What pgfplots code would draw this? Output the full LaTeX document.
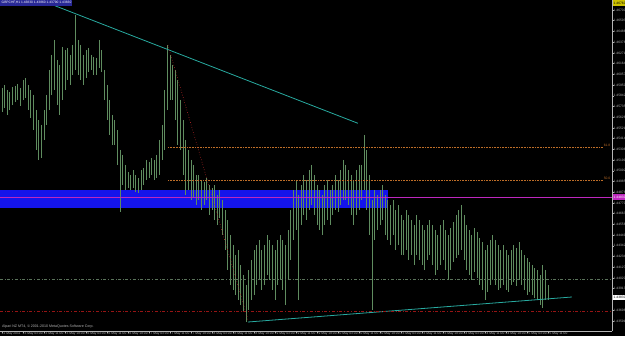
\documentclass[border=0pt]{standalone}
\usepackage{pgfplots}
\pgfplotsset{compat=1.18}
\usepackage{pgfplotstable}
\usepackage{fontspec}
\setmainfont{Liberation Sans}
\definecolor{barcol}{RGB}{95,140,95}
\definecolor{teal2}{RGB}{40,170,160}
\definecolor{fibcol}{RGB}{190,110,40}
\definecolor{fibline}{RGB}{190,40,40}
\definecolor{magline}{RGB}{190,40,190}
\definecolor{rectblue}{RGB}{20,20,235}
\definecolor{hdrblue}{RGB}{40,40,150}
\definecolor{axgray}{RGB}{180,180,180}
\definecolor{sellcol}{RGB}{90,115,90}
\definecolor{slred}{RGB}{150,20,20}
\pgfplotstableread{
i h l
0 1.4592 1.4568
1 1.4595 1.4572
2 1.4590 1.4565
3 1.4588 1.4570
4 1.4593 1.4575
5 1.4594 1.4578
6 1.4596 1.4580
7 1.4592 1.4574
8 1.4600 1.4580
9 1.4602 1.4582
10 1.4595 1.4570
11 1.4590 1.4562
12 1.4585 1.4550
13 1.4570 1.4530
14 1.4560 1.4520
15 1.4555 1.4522
16 1.4570 1.4540
17 1.4585 1.4555
18 1.4610 1.4570
19 1.4625 1.4585
20 1.4640 1.4590
21 1.4620 1.4575
22 1.4615 1.4565
23 1.4633 1.4580
24 1.4630 1.4590
25 1.4632 1.4600
26 1.4625 1.4595
27 1.4635 1.4605
28 1.4665 1.4610
29 1.4640 1.4605
30 1.4635 1.4600
31 1.4625 1.4595
32 1.4630 1.4602
33 1.4632 1.4608
34 1.4625 1.4610
35 1.4623 1.4605
36 1.4622 1.4605
37 1.4640 1.4612
38 1.4630 1.4608
39 1.4610 1.4580
40 1.4595 1.4560
41 1.4580 1.4545
42 1.4565 1.4535
43 1.4560 1.4535
44 1.4550 1.4515
45 1.4530 1.4468
46 1.4525 1.4495
47 1.4515 1.4490
48 1.4508 1.4492
49 1.4505 1.4490
50 1.4510 1.4492
51 1.4505 1.4488
52 1.4502 1.4487
53 1.4510 1.4490
54 1.4512 1.4495
55 1.4520 1.4500
56 1.4518 1.4502
57 1.4522 1.4505
58 1.4520 1.4500
59 1.4525 1.4502
60 1.4540 1.4505
61 1.4555 1.4520
62 1.4590 1.4530
63 1.4635 1.4570
64 1.4625 1.4580
65 1.4615 1.4580
66 1.4610 1.4560
67 1.4600 1.4535
68 1.4580 1.4530
69 1.4560 1.4505
70 1.4540 1.4485
71 1.4530 1.4490
72 1.4520 1.4480
73 1.4515 1.4482
74 1.4505 1.4475
75 1.4505 1.4480
76 1.4500 1.4470
77 1.4498 1.4475
78 1.4502 1.4480
79 1.4495 1.4465
80 1.4492 1.4470
81 1.4495 1.4460
82 1.4485 1.4455
83 1.4490 1.4462
84 1.4480 1.4445
85 1.4470 1.4430
86 1.4460 1.4410
87 1.4445 1.4395
88 1.4435 1.4390
89 1.4425 1.4385
90 1.4430 1.4380
91 1.4415 1.4375
92 1.4405 1.4368
93 1.4395 1.4358
94 1.4410 1.4370
95 1.4420 1.4380
96 1.4430 1.4385
97 1.4435 1.4395
98 1.4440 1.4400
99 1.4430 1.4390
100 1.4435 1.4395
101 1.4445 1.4405
102 1.4440 1.4400
103 1.4435 1.4390
104 1.4430 1.4380
105 1.4440 1.4395
106 1.4445 1.4400
107 1.4440 1.4390
108 1.4435 1.4375
109 1.4450 1.4400
110 1.4470 1.4420
111 1.4490 1.4440
112 1.4500 1.4450
113 1.4485 1.4380
114 1.4495 1.4455
115 1.4505 1.4465
116 1.4500 1.4460
117 1.4510 1.4470
118 1.4515 1.4475
119 1.4505 1.4465
120 1.4495 1.4455
121 1.4490 1.4450
122 1.4485 1.4445
123 1.4495 1.4455
124 1.4500 1.4460
125 1.4490 1.4455
126 1.4495 1.4465
127 1.4505 1.4470
128 1.4500 1.4468
129 1.4510 1.4475
130 1.4520 1.4480
131 1.4515 1.4480
132 1.4510 1.4475
133 1.4505 1.4465
134 1.4500 1.4455
135 1.4510 1.4465
136 1.4515 1.4470
137 1.4515 1.4480
138 1.4545 1.4490
139 1.4530 1.4470
140 1.4505 1.4445
141 1.4480 1.4370
142 1.4490 1.4440
143 1.4485 1.4450
144 1.4490 1.4455
145 1.4495 1.4460
146 1.4485 1.4445
147 1.4480 1.4440
148 1.4475 1.4435
149 1.4480 1.4445
150 1.4470 1.4430
151 1.4475 1.4435
152 1.4465 1.4425
153 1.4460 1.4425
154 1.4470 1.4430
155 1.4465 1.4420
156 1.4460 1.4425
157 1.4455 1.4415
158 1.4465 1.4425
159 1.4460 1.4420
160 1.4455 1.4415
161 1.4450 1.4410
162 1.4455 1.4420
163 1.4460 1.4425
164 1.4455 1.4415
165 1.4450 1.4405
166 1.4445 1.4410
167 1.4455 1.4415
168 1.4460 1.4420
169 1.4450 1.4410
170 1.4445 1.4400
171 1.4452 1.4410
172 1.4458 1.4418
173 1.4465 1.4422
174 1.4470 1.4425
175 1.4475 1.4430
176 1.4465 1.4420
177 1.4455 1.4410
178 1.4450 1.4405
179 1.4445 1.4400
180 1.4452 1.4408
181 1.4448 1.4402
182 1.4442 1.4395
183 1.4438 1.4390
184 1.4430 1.4380
185 1.4435 1.4388
186 1.4440 1.4395
187 1.4445 1.4400
188 1.4440 1.4395
189 1.4435 1.4390
190 1.4430 1.4392
191 1.4435 1.4395
192 1.4430 1.4390
193 1.4425 1.4388
194 1.4430 1.4395
195 1.4435 1.4398
196 1.4432 1.4394
197 1.4438 1.4400
198 1.4430 1.4395
199 1.4425 1.4390
200 1.4422 1.4385
201 1.4418 1.4388
202 1.4415 1.4385
203 1.4412 1.4382
204 1.4410 1.4380
205 1.4405 1.4375
206 1.4415 1.4372
207 1.4410 1.4380
208 1.4395 1.4380
}\bars
\begin{document}
\begin{tikzpicture}[x=1bp,y=1bp]
\fill[black] (0,0) rectangle (625,336);
\useasboundingbox (0,0) rectangle (625,336);
\begin{axis}[
  at={(0,5)}, anchor=south west,
  width=612bp, height=331bp, scale only axis,
  xmin=-0.762, xmax=232.38, ymin=1.4349, ymax=1.4680,
  axis x line*=bottom, axis y line*=right,
  axis line style={axgray, line width=0.6bp, -},
  tick style={axgray, line width=0.5bp},
  major tick length=2bp, tick align=outside,
  xtick={0,8,...,208},
  xticklabels={12 May 2011, 13 May 03:00, 13 May 11:00, 13 May 19:00, 16 May 03:00, 16 May 11:00, 16 May 19:00, 17 May 03:00, 17 May 11:00, 17 May 19:00, 18 May 03:00, 18 May 11:00, 18 May 19:00, 19 May 03:00, 19 May 11:00, 19 May 19:00, 20 May 03:00, 20 May 11:00, 20 May 19:00, 23 May 03:00, 23 May 11:00, 23 May 19:00, 24 May 03:00, 24 May 11:00, 24 May 19:00, 25 May 03:00, 25 May 11:00},
  xticklabel style={font=\fontsize{3.3}{3.6}\selectfont, text=axgray, anchor=north west, inner sep=0pt, xshift=-0.5bp, yshift=1bp},
  ytick={1.46700,1.46593,1.46486,1.46378,1.46271,1.46164,1.46057,1.45950,1.45842,1.45735,1.45628,1.45521,1.45414,1.45306,1.45199,1.45092,1.44985,1.44878,1.44770,1.44663,1.44556,1.44449,1.44342,1.44234,1.44127,1.44020,1.43913,1.43806,1.43698,1.43591},
  yticklabel style={font=\fontsize{3.3}{3.6}\selectfont, text=axgray, anchor=west, inner sep=0pt, xshift=-0.5bp},
  yticklabel={\pgfmathprintnumber[fixed, fixed zerofill, precision=5, assume math mode=true]{\tick}},
]
\addplot[draw=none, fill=rectblue, mark=none] coordinates {(-1,1.4472) (147.0,1.4472) (147.0,1.4490) (-1,1.4490)} -- cycle;
\addplot[barcol, line width=0.9bp, mark=none, quiver={u=0, v=\thisrow{l}-\thisrow{h}}] table[x=i, y=h] {\bars};
\addplot[teal2, line width=0.8bp, mark=none] coordinates {(12.57,1.4682) (135.6,1.45567)};
\addplot[teal2, line width=0.8bp, mark=none] coordinates {(93.7,1.4358) (217.1,1.4383)};
\addplot[fibcol, densely dotted, line width=0.6bp, mark=none] coordinates {(63.2,1.4533) (229,1.4533)};
\addplot[fibcol, densely dotted, line width=0.6bp, mark=none] coordinates {(63.2,1.4500) (229,1.4500)};
\addplot[fibline, dotted, line width=0.6bp, mark=none] coordinates {(63.2,1.4635) (93.7,1.4360)};
\addplot[magline, line width=0.8bp, mark=none] coordinates {(-0.762,1.4483) (232.38,1.4483)};
\addplot[sellcol, dash dot, line width=0.6bp, mark=none] coordinates {(-0.762,1.4401) (232.38,1.4401)};
\addplot[slred, dash dot, line width=0.6bp, mark=none] coordinates {(-0.762,1.4369) (232.38,1.4369)};
\end{axis}
% header
\fill[hdrblue] (0,330) rectangle (72,336);
\node[anchor=west, inner sep=0pt, text=white, font=\fontsize{3.3}{3.6}\selectfont] at (1.5,333) {GBPCHF,H1 1.43830 1.43860 1.43790 1.43830};
% price-scale boxes
\fill[yellow!55!olive] (612.5,330) rectangle (625,335.5);
\node[anchor=west, inner sep=0pt, text=black, font=\fontsize{3.3}{3.6}\selectfont] at (613.5,332.7) {1.46760};
\fill[magline] (612.5,136) rectangle (625,142);
\node[anchor=west, inner sep=0pt, text=white, font=\fontsize{3.3}{3.6}\selectfont] at (613.5,139) {1.44830};
\fill[white] (612.5,36.5) rectangle (625,41.5);
\node[anchor=west, inner sep=0pt, text=black, font=\fontsize{3.3}{3.6}\selectfont] at (613.5,39) {1.43830};
% fib labels
\node[anchor=south, inner sep=0.3pt, text=fibcol, font=\fontsize{3.3}{3.6}\selectfont] at (607,189) {61.8};
\node[anchor=south, inner sep=0.3pt, text=fibcol, font=\fontsize{3.3}{3.6}\selectfont] at (607,156) {50.0};
% copyright
\node[anchor=west, inner sep=0pt, text=axgray, font=\fontsize{3.6}{4}\selectfont] at (2,9) {Alpari NZ MT4, \textcopyright{} 2001-2010 MetaQuotes Software Corp.};
\end{tikzpicture}
\end{document}
